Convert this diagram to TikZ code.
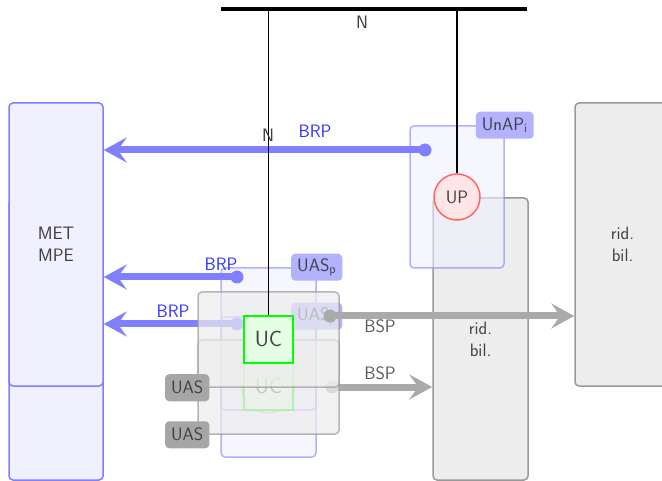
\documentclass[tikz,border=0pt]{standalone}
\usetikzlibrary{arrows.meta}
\definecolor{cblue}{HTML}{7F7FFF}
\definecolor{cbrp}{HTML}{3333FF}
\definecolor{cgrey}{HTML}{AAAAAA}
\definecolor{cink}{HTML}{404040}
\tikzset{
  every picture/.style={font=\sffamily\fontsize{18}{22}\selectfont, line width=1.5pt},
  bluebox/.style={draw=cblue, fill=cblue!12, rounded corners=4pt, align=center, text=cink, inner sep=0pt},
  greybox/.style={draw=black!40, fill=black!7, rounded corners=4pt, align=center, text=cink, inner sep=0pt},
  tag/.style={fill=#1, rounded corners=4pt, text=cink, inner xsep=6pt, inner ysep=0pt, minimum height=27pt},
  dot/.style={circle, fill=#1, inner sep=0pt, minimum size=13pt},
  arrow/.style={-{Stealth[length=23pt, width=25pt, inset=9pt]}, draw=#1, line width=7pt},
  ucbox/.style={draw=green, fill=green!10, text=cink, line width=2pt, minimum width=49pt, minimum height=47pt, inner sep=0pt, font=\sffamily\fontsize{22}{24}\selectfont},
  upcirc/.style={circle, draw=red!60, fill=red!10, text=cink, minimum size=46pt, inner sep=0pt},
  brp/.style={text=cbrp},
  bsp/.style={text=black!65},
}

\begin{document}
\begin{tikzpicture}[x=1pt, y=-1pt]
  \clip (0,0) rectangle (662,481);
  % market side and the two balancing blocks
  \node[bluebox, minimum width=94pt, minimum height=280pt] (metlow) at (56,340) {};
  \node[bluebox, minimum width=94pt, minimum height=283pt] (met) at (56,244.5) {MET\\MPE};
  \node[greybox, minimum width=95pt, minimum height=283pt] (ridr) at (622.5,244.5) {rid.\\bil.};
  \node[greybox, minimum width=95pt, minimum height=282pt] (ridm) at (480.5,339) {rid.\\bil.};
  % production unit
  \node[bluebox, opacity=0.6, minimum width=94pt, minimum height=142pt] (unap) at (457,197) {};
  \node[tag=cblue!60] (unaptag) at (unap.north east) {UnAP\textsubscript{i}};
  \node[upcirc] (up) at (457,197) {UP};
  \node[dot=cblue] (brpdota) at (425,150) {};
  \draw[arrow=cblue] (brpdota.center) -- (brpdota.center -| met.east);
  \node[brp] (brpa) at (315,131) {BRP};
  % consumption units
  \node[bluebox, opacity=0.6, minimum width=95pt, minimum height=189pt] (uasp) at (268.5,362.5) {};
  \node[tag=cblue!60] (uasptag) at (uasp.north east) {UAS\textsubscript{p}};
  \node[dot=cblue] (brpdotb) at (237,277) {};
  \draw[arrow=cblue] (brpdotb.center) -- (brpdotb.center -| met.east);
  \node[brp] (brpb) at (221,264) {BRP};
  \node[bluebox, opacity=0.6, minimum width=95pt, minimum height=93pt] (uasq) at (268.5,363.5) {};
  \node[tag=cblue!60] (uasqtag) at (uasq.north east) {UAS\textsubscript{p}};
  \node[dot=cblue] (brpdotc) at (237,324) {};
  \draw[arrow=cblue] (brpdotc.center) -- (brpdotc.center -| met.east);
  \node[brp] (brpc) at (173,311) {BRP};
  \node[upcirc, minimum size=52pt, opacity=0.5] (uppale) at (268,387) {};
  \node[ucbox, opacity=0.8] (ucpale) at (268.5,386.5) {UC};
  \node[dot=cgrey] (bspdotb) at (332,387) {};
  \draw[arrow=cgrey] (bspdotb.center) -- (bspdotb.center -| ridm.west);
  \node[bsp] (bspb) at (380,373) {BSP};
  \node[greybox, opacity=0.7, minimum width=141pt, minimum height=94pt] (uasb) at (268.5,387) {};
  \node[tag=black!35] (uasbtag) at ([xshift=-10pt]uasb.south west) {UAS};
  \node[greybox, opacity=0.7, minimum width=141pt, minimum height=95pt] (uasa) at (268.5,339.5) {};
  \node[tag=black!35] (uasatag) at ([xshift=-10pt]uasa.south west) {UAS};
  \node[ucbox] (uc) at (268.5,339.5) {UC};
  \node[dot=cgrey] (bspdota) at (330,316) {};
  \draw[arrow=cgrey] (bspdota.center) -- (bspdota.center -| ridr.west);
  \node[bsp] (bspa) at (380,326) {BSP};
  % grid
  \coordinate (busw) at (221,9);
  \coordinate (buse) at (527,9);
  \draw[line width=4.5pt] (busw) -- (buse);
  \node[text=cink] (nbus) at (362,22) {N};
  \draw (up.north |- busw) -- (up.north);
  \draw (uc.north |- busw) -- (uc.north);
  \node[text=cink] (nuc) at (268,135) {N};
\end{tikzpicture}
\end{document}
